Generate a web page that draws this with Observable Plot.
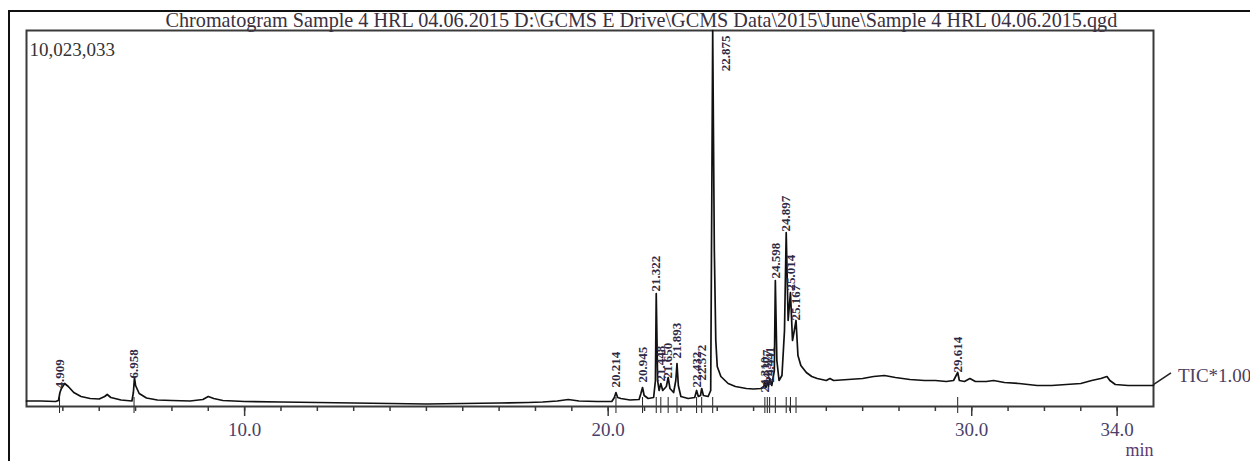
<!DOCTYPE html>
<html>
<head>
<meta charset="utf-8">
<script src="https://cdn.jsdelivr.net/npm/d3@7"></script>
<script src="https://cdn.jsdelivr.net/npm/@observablehq/plot@0.6"></script>
<style>
  html, body { margin: 0; padding: 0; width: 1250px; height: 461px; overflow: hidden; background: #fff; }
  #wrap { position: relative; width: 1250px; height: 461px; }
  #outer { position: absolute; left: 8px; top: 10px; width: 1300px; height: 500px; border-left: 2px solid #111; border-top: 2px solid #111; }
  #chart { position: absolute; left: 0; top: 0; }
</style>
</head>
<body>
<div id="wrap"><div id="outer"></div><div id="chart"></div></div>
<script>
// ---- data ----
const titleText = "Chromatogram Sample 4 HRL 04.06.2015 D:\\GCMS E Drive\\GCMS Data\\2015\\June\\Sample 4 HRL 04.06.2015.qgd";
const yMaxLabel = "10,023,033";
const yMax = 10023033;
const seriesLabel = "TIC*1.00";
const unitLabel = "min";

// total ion current trace: retention time (min) and intensity (counts)
const traceTime = [4.0, 4.4, 4.8, 4.88, 4.92, 4.96, 5.05, 5.15, 5.3, 5.5, 5.75, 6.0, 6.15, 6.22, 6.32, 6.6, 6.9, 6.94, 6.97, 7.0, 7.1, 7.3, 7.6, 8.0, 8.5, 8.85, 9.0, 9.15, 9.4,
  10.0, 11.0, 12.0, 13.0, 14.0, 15.0, 16.0, 17.0, 17.8, 18.2, 18.6, 18.9, 19.2, 19.7,
  20.1, 20.17, 20.214, 20.26, 20.35, 20.6, 20.85, 20.9, 20.945, 20.99, 21.1, 21.25, 21.3, 21.322, 21.36, 21.4, 21.448, 21.5, 21.6, 21.65, 21.7, 21.8, 21.86, 21.893, 21.93,
  22.0, 22.2, 22.38, 22.432, 22.48, 22.54, 22.572, 22.62, 22.75, 22.82, 22.85, 22.875, 22.92, 22.96, 23.0, 23.1, 23.3, 23.5, 23.8,
  24.0, 24.2, 24.28, 24.31, 24.34, 24.377, 24.41, 24.441, 24.5, 24.57, 24.598, 24.64, 24.7, 24.78, 24.85, 24.897, 24.95, 25.014, 25.07, 25.12, 25.167, 25.22, 25.3, 25.45, 25.6, 25.75,
  26.0, 26.1, 26.2, 26.6, 27.0, 27.3, 27.6, 27.9, 28.3, 28.7, 29.0, 29.3, 29.5, 29.614, 29.66, 29.8, 29.95,
  30.1, 30.4, 30.6, 30.9, 31.3, 31.8, 32.2, 32.6, 33.0, 33.3, 33.55, 33.72, 33.8, 33.95, 34.3, 34.7, 35.0];
const traceCounts = [147000, 147000, 133000, 160000, 373000, 480000, 613000, 533000, 373000, 267000, 213000, 200000, 267000, 320000, 240000, 173000, 147000, 373000, 773000, 560000, 347000, 227000, 173000, 160000, 147000, 187000, 267000, 213000, 160000,
  133000, 120000, 107000, 93000, 80000, 67000, 80000, 93000, 107000, 120000, 147000, 187000, 147000, 133000,
  133000, 240000, 373000, 240000, 213000, 173000, 187000, 347000, 506000, 293000, 213000, 240000, 693000, 3012000, 693000, 427000, 613000, 427000, 533000, 773000, 480000, 373000, 693000, 1146000, 560000,
  267000, 213000, 240000, 427000, 267000, 293000, 480000, 293000, 267000, 427000, 5491000, 10023033, 4158000, 1759000, 1066000, 800000, 613000, 533000, 480000,
  466000, 480000, 533000, 640000, 506000, 693000, 533000, 746000, 560000, 960000, 3359000, 1226000, 693000, 826000, 2026000, 4638000, 2293000, 3039000, 1759000, 2026000, 2293000, 1360000, 1093000, 906000, 800000, 746000,
  693000, 746000, 693000, 720000, 746000, 800000, 826000, 773000, 720000, 693000, 693000, 666000, 693000, 906000, 693000, 666000, 746000,
  666000, 666000, 693000, 640000, 613000, 560000, 560000, 586000, 613000, 693000, 746000, 800000, 693000, 586000, 560000, 560000, 560000];

// labelled peaks: retention time, printed label, height at which the label is printed (counts)
const peakTimes  = [4.909, 6.958, 20.214, 20.945, 21.322, 21.448, 21.650, 21.893, 22.432, 22.572, 22.875, 24.310, 24.377, 24.441, 24.598, 24.897, 25.014, 25.167, 29.614];
const peakLabels = ["4.909", "6.958", "20.214", "20.945", "21.322", "21.448", "21.650", "21.893", "22.432", "22.572", "22.875", "24.310", "24.377", "24.441", "24.598", "24.897", "25.014", "25.167", "29.614"];
const peakHeights = [427000, 693000, 453000, 586000, 3012000, 613000, 693000, 1226000, 453000, 640000, 10023033, 320000, 506000, 586000, 3359000, 4612000, 3039000, 2239000, 853000];

// x axis ticks
const minorTicks = [5, 6, 7, 8, 9, 10, 11, 12, 13, 14, 15, 16, 17, 18, 19, 20, 21, 22, 23, 24, 25, 26, 27, 28, 29, 30, 31, 32, 33, 34];
const majorTicks = [10, 20, 30, 34];
const majorTickLabels = ["10.0", "20.0", "30.0", "34.0"];
const xDomain = [4, 35];

// ---- build ----
const trace = traceTime.map((t, i) => ({t, v: traceCounts[i]}));
const peaks = peakTimes.map((t, i) => ({t, label: peakLabels[i], h: peakHeights[i]}));
const topPeaks = peaks.filter(p => p.h >= yMax);
const otherPeaks = peaks.filter(p => p.h < yMax);

const serif = "'Liberation Serif', 'DejaVu Serif', serif";
const inkText = "#2f2944";

const chart = Plot.plot({
  width: 1250,
  height: 461,
  marginLeft: 26,
  marginRight: 97,
  marginTop: 30,
  marginBottom: 55,
  x: {domain: xDomain, label: null},
  y: {domain: [0, yMax], axis: null, label: null},
  style: {fontFamily: serif, background: "transparent", overflow: "visible"},
  marks: [
    Plot.ruleX(peaks, {x: "t", insetTop: 367, insetBottom: -7, stroke: "#222", strokeWidth: 1}),
    Plot.frame({stroke: "#3a3a3a", strokeWidth: 2}),
    Plot.axisX({ticks: minorTicks, tickSize: 5, tickFormat: () => "", stroke: "#3a3a3a", strokeWidth: 1.5, label: null}),
    Plot.axisX({ticks: majorTicks, tickSize: 10, tickPadding: 6, tickFormat: d => majorTickLabels[majorTicks.indexOf(d)],
      stroke: "#3a3a3a", strokeWidth: 1.5, fontSize: 19, fill: "#4a3f68", label: null}),
    Plot.line(trace, {x: "t", y: "v", stroke: "#111", strokeWidth: 1.7}),
    Plot.text(otherPeaks, {x: "t", y: "h", text: "label", rotate: -90, textAnchor: "start", lineAnchor: "middle", dy: -2, fontSize: 13, fontWeight: 600, fill: inkText}),
    Plot.text(topPeaks, {x: "t", y: "h", text: "label", rotate: -90, textAnchor: "end", lineAnchor: "middle", dx: 13, dy: 5, fontSize: 13, fontWeight: 600, fill: inkText}),
    Plot.text([yMaxLabel], {frameAnchor: "top-left", lineAnchor: "middle", dx: 3, dy: 19, textAnchor: "start", fontSize: 19, fill: "#333"}),
    Plot.text([titleText], {frameAnchor: "top-left", lineAnchor: "middle", dx: 139, dy: -10, textAnchor: "start", fontSize: 20.2, fill: "#3a3040"}),
    Plot.text([unitLabel], {frameAnchor: "bottom-right", lineAnchor: "middle", dy: 44, textAnchor: "end", fontSize: 18, fill: "#5a3a70"})
  ]
});
document.getElementById("chart").appendChild(chart);

// series label with its leader line from the trace end
const sx = chart.scale("x"), sy = chart.scale("y");
const last = trace[trace.length - 1];
const x0 = sx.apply(last.t), y0 = sy.apply(last.v);
const svg = d3.select(chart);
svg.append("line").attr("x1", x0).attr("y1", y0).attr("x2", x0 + 18).attr("y2", y0 - 12)
  .attr("stroke", "#222").attr("stroke-width", 1.5);
svg.append("text").attr("x", x0 + 25).attr("y", y0 - 9).attr("dy", "0.32em").attr("text-anchor", "start")
  .attr("font-family", serif).attr("font-size", 19).attr("fill", "#4a4060").text(seriesLabel);
</script>
</body>
</html>
